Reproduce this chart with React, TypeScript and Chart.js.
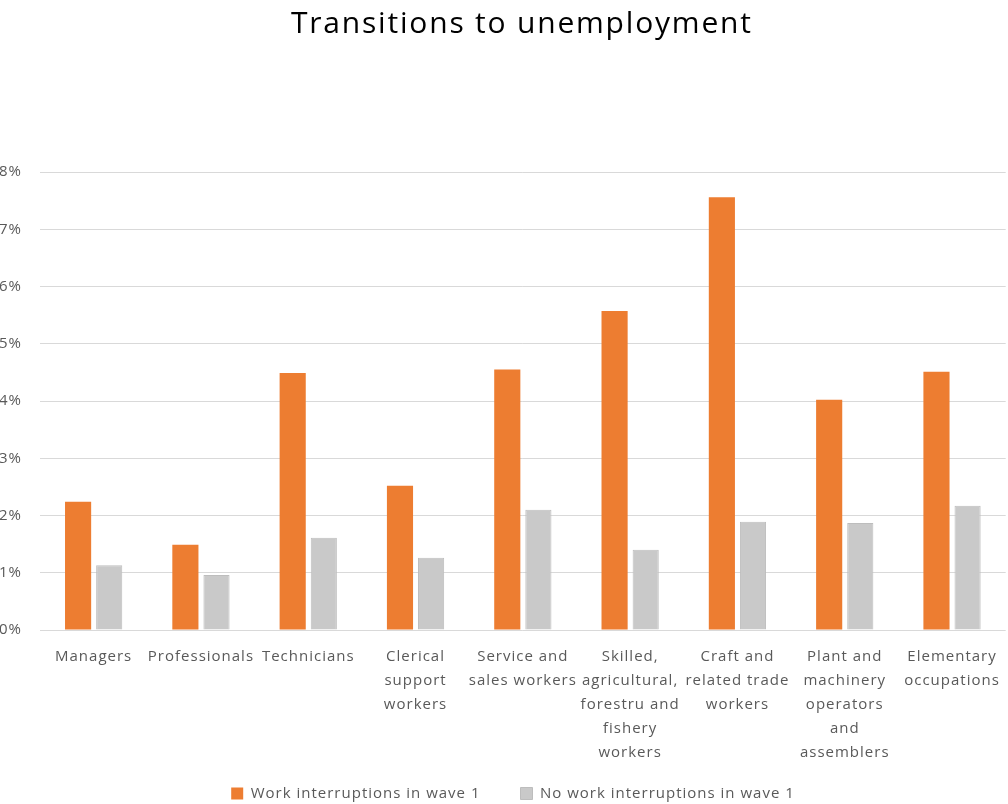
import React, { useEffect, useRef } from "react";
import { Chart, registerables } from "chart.js";

Chart.register(...registerables);

const categories: (string | string[])[] = [
  "Managers",
  "Professionals",
  "Technicians",
  ["Clerical", "support", "workers"],
  ["Service and", "sales workers"],
  ["Skilled,", "agricultural,", "forestru and", "fishery", "workers"],
  ["Craft and", "related trade", "workers"],
  ["Plant and", "machinery", "operators", "and", "assemblers"],
  ["Elementary", "occupations"],
];

const workInterruptions = [2.24, 1.49, 4.49, 2.52, 4.55, 5.57, 7.56, 4.02, 4.51];
const noWorkInterruptions = [1.13, 0.96, 1.61, 1.26, 2.1, 1.4, 1.89, 1.87, 2.17];

const seriesNames = ["Work interruptions in wave 1", "No work interruptions in wave 1"];
const titleText = "Transitions to unemployment";

const FONT = "'Open Sans', 'DejaVu Sans', sans-serif";
const TEXT = "#595959";

export default function App() {
  const ref = useRef<HTMLCanvasElement | null>(null);

  useEffect(() => {
    if (!ref.current) return;
    const spacingPlugin = {
      id: "spacing",
      beforeUpdate(chart: any) {
        chart.ctx.letterSpacing = "1px";
      },
      afterLayout(chart: any) {
        if (chart.legend) {
          chart.legend.left += 12;
          chart.legend.right += 12;
          chart.legend.top += 2;
          chart.legend.bottom += 2;
        }
        if (chart.scales && chart.scales.x) {
          chart.scales.x.bottom += 40;
        }
      },
      beforeDraw(chart: any) {
        chart.ctx.letterSpacing = "1px";
      },
    };
    const titlePlugin = {
      id: "customTitle",
      afterDraw(chart: any) {
        const { ctx, chartArea } = chart;
        ctx.save();
        ctx.letterSpacing = "1.8px";
        ctx.font = `30px ${FONT}`;
        ctx.fillStyle = "#000000";
        ctx.textAlign = "center";
        ctx.textBaseline = "middle";
        ctx.fillText(titleText, (chartArea.left + chartArea.right) / 2 - 1, 24);
        ctx.restore();
        ctx.letterSpacing = "1px";
      },
    };
    const chart = new Chart(ref.current, {
      type: "bar",
      data: {
        labels: categories,
        datasets: [
          {
            label: seriesNames[0],
            data: workInterruptions,
            backgroundColor: "#ED7D31",
            borderWidth: 0,
            barPercentage: 0.84,
            categoryPercentage: 0.58,
          },
          {
            label: seriesNames[1],
            data: noWorkInterruptions,
            backgroundColor: "#C9C9C9",
            borderColor: "#BDBDBD",
            borderWidth: 1,
            barPercentage: 0.84,
            categoryPercentage: 0.58,
          },
        ],
      },
      options: {
        responsive: false,
        animation: false,
        layout: { padding: { top: 172, right: 3, left: 0, bottom: 0 } },
        plugins: {
          title: { display: false },
          tooltip: { enabled: false },
          legend: {
            position: "bottom",
            maxHeight: 60,
            labels: {
              boxWidth: 12,
              boxHeight: 12,
              padding: 40,
              color: TEXT,
              font: { family: FONT, size: 15 },
            },
          },
        },
        scales: {
          x: {
            afterFit(scale: any) {
              scale.height = 114;
            },
            grid: { display: false, drawTicks: false },
            border: { display: false },
            ticks: {
              color: TEXT,
              padding: 15,
              maxRotation: 0,
              autoSkip: false,
              font: { family: FONT, size: 15, lineHeight: 1.6 },
            },
          },
          y: {
            min: 0,
            max: 8,
            afterFit(scale: any) {
              scale.width = 50;
            },
            grid: { color: "#D9D9D9", lineWidth: 1, drawTicks: false },
            border: { display: false },
            ticks: {
              stepSize: 1,
              color: TEXT,
              padding: 18,
              font: { family: FONT, size: 15 },
              callback: (v: any) => v + "%",
            },
          },
        },
      },
      plugins: [spacingPlugin, titlePlugin],
    });
    return () => chart.destroy();
  }, []);

  return (
    <div
      style={{
        position: "fixed",
        left: 0,
        top: 0,
        width: 1008,
        height: 804,
        overflow: "hidden",
        background: "#ffffff",
      }}
    >
      <canvas
        ref={ref}
        width={1025}
        height={804}
        style={{ position: "absolute", left: -10, top: 0 }}
      />
    </div>
  );
}
